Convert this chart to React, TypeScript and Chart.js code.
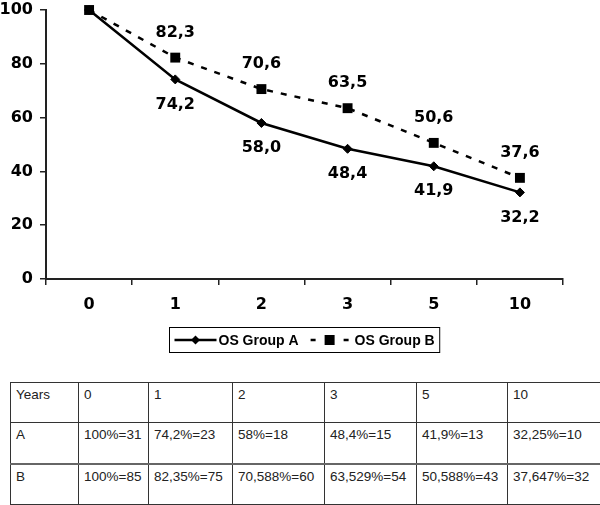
import React, { useEffect, useRef } from 'react';
import { Chart, registerables } from 'chart.js';

Chart.register(...registerables);

const years = ['0', '1', '2', '3', '5', '10'];
const groupA = [100, 74.2, 58.0, 48.4, 41.9, 32.2];
const groupB = [100, 82.3, 70.6, 63.5, 50.6, 37.6];
const labelA = 'OS Group A';
const labelB = 'OS Group B';
const yMin = 0;
const yMax = 100;
const yStep = 20;

const tableHeader = ['Years', '0', '1', '2', '3', '5', '10'];
const tableRowA = ['A', '100%=31', '74,2%=23', '58%=18', '48,4%=15', '41,9%=13', '32,25%=10'];
const tableRowB = ['B', '100%=85', '82,35%=75', '70,588%=60', '63,529%=54', '50,588%=43', '37,647%=32'];
const colWidths = [68, 70, 84, 92, 92, 91, 110];

const AXIS_FONT = 'bold 16px "DejaVu Sans", sans-serif';

const valueLabels = {
  id: 'valueLabels',
  afterDatasetsDraw(chart: any) {
    const ctx = chart.ctx;
    ctx.save();
    ctx.font = AXIS_FONT;
    ctx.fillStyle = '#000';
    ctx.textAlign = 'center';
    ctx.textBaseline = 'middle';
    chart.data.datasets.forEach((ds: any, di: number) => {
      const meta = chart.getDatasetMeta(di);
      const off = di === 0 ? 25 : -25;
      meta.data.forEach((pt: any, i: number) => {
        if (i === 0) return;
        const v = ds.data[i] as number;
        ctx.fillText(v.toFixed(1).replace('.', ','), pt.x, pt.y + off);
      });
    });
    ctx.restore();
  },
};

const boxLegend = {
  id: 'boxLegend',
  afterDraw(chart: any) {
    const ctx = chart.ctx;
    const area = chart.chartArea;
    const dsA = chart.data.datasets[0];
    const dsB = chart.data.datasets[1];
    ctx.save();
    ctx.font = 'bold 14px "Liberation Sans", Arial, sans-serif';
    const wA = ctx.measureText(dsA.label).width;
    const wB = ctx.measureText(dsB.label).width;
    const sample = 42;
    const pad = 5;
    const gap = 2;
    const mid = 12;
    const sB = 38;
    const total = pad + sample + gap + wA + mid + sB + gap + 4 + wB + pad;
    const cx = (area.left + area.right) / 2;
    const x0 = Math.round(cx - total / 2) + 0.5;
    const y0 = 327.5;
    const h = 25;
    const cy = y0 + h / 2;
    ctx.strokeStyle = '#000';
    ctx.lineWidth = 1;
    ctx.strokeRect(x0, y0, total, h);

    // item A
    let x = x0 + pad;
    ctx.setLineDash([]);
    ctx.lineWidth = dsA.borderWidth;
    ctx.strokeStyle = dsA.borderColor;
    ctx.beginPath();
    ctx.moveTo(x, cy);
    ctx.lineTo(x + sample, cy);
    ctx.stroke();
    ctx.fillStyle = dsA.pointBackgroundColor;
    ctx.beginPath();
    ctx.moveTo(x + sample / 2, cy - 4.5);
    ctx.lineTo(x + sample / 2 + 4.5, cy);
    ctx.lineTo(x + sample / 2, cy + 4.5);
    ctx.lineTo(x + sample / 2 - 4.5, cy);
    ctx.closePath();
    ctx.fill();
    x += sample + gap;
    ctx.fillStyle = '#000';
    ctx.textAlign = 'left';
    ctx.textBaseline = 'middle';
    ctx.fillText(dsA.label, x, cy + 1);
    x += wA + mid;

    // item B
    ctx.lineWidth = dsB.borderWidth;
    ctx.strokeStyle = dsB.borderColor;
    ctx.beginPath();
    ctx.moveTo(x, cy);
    ctx.lineTo(x + 5, cy);
    ctx.moveTo(x + sB - 5, cy);
    ctx.lineTo(x + sB, cy);
    ctx.stroke();
    ctx.fillStyle = dsB.pointBackgroundColor;
    ctx.fillRect(x + sB / 2 - 5, cy - 5, 10, 10);
    x += sB + gap + 4;
    ctx.fillStyle = '#000';
    ctx.fillText(dsB.label, x, cy + 1);
    ctx.restore();
  },
};

function LineChart() {
  const ref = useRef<HTMLCanvasElement | null>(null);
  useEffect(() => {
    if (!ref.current) return;
    const chart = new Chart(ref.current, {
      type: 'line',
      data: {
        labels: years,
        datasets: [
          {
            label: labelA,
            data: groupA,
            borderColor: '#000',
            backgroundColor: '#000',
            pointBackgroundColor: '#000',
            pointBorderColor: '#000',
            borderWidth: 2.5,
            pointStyle: 'rectRot',
            pointRadius: 4.5,
            pointBorderWidth: 1,
            tension: 0,
            clip: false,
          },
          {
            label: labelB,
            data: groupB,
            borderColor: '#000',
            backgroundColor: '#000',
            pointBackgroundColor: '#000',
            pointBorderColor: '#000',
            borderWidth: 2.5,
            borderDash: [6, 8],
            pointStyle: 'rect',
            pointRadius: 7,
            pointBorderWidth: 0,
            tension: 0,
            clip: false,
          },
        ],
      },
      options: {
        responsive: false,
        animation: false,
        events: [],
        layout: { autoPadding: false, padding: { top: 10, right: 37, bottom: 0, left: 0 } },
        plugins: {
          legend: { display: false },
          tooltip: { enabled: false },
        },
        scales: {
          x: {
            offset: true,
            grid: {
              offset: true,
              drawOnChartArea: false,
              drawTicks: true,
              tickLength: 6,
              color: '#222',
              lineWidth: 1.5,
            },
            border: { color: '#222', width: 2 },
            ticks: {
              color: '#000',
              font: { family: '"DejaVu Sans", sans-serif', size: 16, weight: 'bold' },
              padding: 10,
            },
            afterFit(scale: any) {
              scale.height = 86;
              scale.paddingLeft = 0;
              scale.paddingRight = 0;
            },
          },
          y: {
            min: yMin,
            max: yMax,
            ticks: {
              stepSize: yStep,
              color: '#000',
              font: { family: '"DejaVu Sans", sans-serif', size: 16, weight: 'bold' },
              padding: 7,
            },
            grid: {
              drawOnChartArea: false,
              drawTicks: true,
              tickLength: 6,
              color: '#222',
              lineWidth: 1.5,
            },
            border: { color: '#222', width: 2 },
            afterFit(scale: any) {
              scale.width = 46;
              scale.paddingTop = 0;
              scale.paddingBottom = 0;
            },
          },
        },
      },
      plugins: [valueLabels, boxLegend],
    } as any);
    return () => chart.destroy();
  }, []);
  return (
    <canvas
      ref={ref}
      width={600}
      height={365}
      style={{ position: 'absolute', left: 0, top: 0, width: 600, height: 365 }}
    />
  );
}

function DataTable() {
  const rows = [tableHeader, tableRowA, tableRowB];
  const heights = [40, 41, 41];
  const total = colWidths.reduce((a, b) => a + b, 0);
  return (
    <table
      style={{
        position: 'absolute',
        left: 10,
        top: 382,
        borderCollapse: 'collapse',
        tableLayout: 'fixed',
        width: total,
        fontFamily: '"Liberation Sans", Arial, sans-serif',
        fontSize: 13.5,
        color: '#222',
      }}
    >
      <colgroup>
        {colWidths.map((w, i) => (
          <col key={i} style={{ width: w }} />
        ))}
      </colgroup>
      <tbody>
        {rows.map((r, ri) => (
          <tr key={ri} style={{ height: heights[ri] }}>
            {r.map((c, ci) => (
              <td
                key={ci}
                style={{
                  border: '1px solid #333',
                  borderTop: ri === 2 ? '2px solid #666' : '1px solid #333',
                  padding: '4px 5px',
                  verticalAlign: 'top',
                  whiteSpace: 'nowrap',
                  overflow: 'hidden',
                  lineHeight: '16px',
                }}
              >
                {c}
              </td>
            ))}
          </tr>
        ))}
      </tbody>
    </table>
  );
}

export default function App() {
  return (
    <div
      style={{
        position: 'absolute',
        left: 0,
        top: 0,
        width: 600,
        height: 505,
        overflow: 'hidden',
        background: '#fff',
      }}
    >
      <LineChart />
      <DataTable />
    </div>
  );
}
